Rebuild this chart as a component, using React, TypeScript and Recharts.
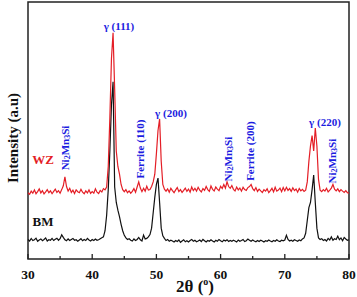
import React from 'react';
import { LineChart, Line, XAxis, YAxis, ReferenceDot, ReferenceArea } from 'recharts';

const twoTheta = [
  30, 30.25, 30.5, 30.75, 31, 31.25, 31.5, 31.75, 32, 32.25, 32.5, 32.75, 33, 33.25, 33.5, 33.75, 34, 34.25, 34.5, 34.75,
  35, 35.25, 35.5, 35.75, 36, 36.25, 36.5, 36.75, 37, 37.25, 37.5, 37.75, 38, 38.25, 38.5, 38.75, 39, 39.25, 39.5, 39.75,
  40, 40.25, 40.5, 40.75, 41, 41.25, 41.5, 41.75, 42, 42.25, 42.5, 42.75, 43, 43.25, 43.5, 43.75, 44, 44.25, 44.5, 44.75,
  45, 45.25, 45.5, 45.75, 46, 46.25, 46.5, 46.75, 47, 47.25, 47.5, 47.75, 48, 48.25, 48.5, 48.75, 49, 49.25, 49.5, 49.75,
  50, 50.25, 50.5, 50.75, 51, 51.25, 51.5, 51.75, 52, 52.25, 52.5, 52.75, 53, 53.25, 53.5, 53.75, 54, 54.25, 54.5, 54.75,
  55, 55.25, 55.5, 55.75, 56, 56.25, 56.5, 56.75, 57, 57.25, 57.5, 57.75, 58, 58.25, 58.5, 58.75, 59, 59.25, 59.5, 59.75,
  60, 60.25, 60.5, 60.75, 61, 61.25, 61.5, 61.75, 62, 62.25, 62.5, 62.75, 63, 63.25, 63.5, 63.75, 64, 64.25, 64.5, 64.75,
  65, 65.25, 65.5, 65.75, 66, 66.25, 66.5, 66.75, 67, 67.25, 67.5, 67.75, 68, 68.25, 68.5, 68.75, 69, 69.25, 69.5, 69.75,
  70, 70.25, 70.5, 70.75, 71, 71.25, 71.5, 71.75, 72, 72.25, 72.5, 72.75, 73, 73.25, 73.5, 73.75, 74, 74.25, 74.5, 74.75,
  75, 75.25, 75.5, 75.75, 76, 76.25, 76.5, 76.75, 77, 77.25, 77.5, 77.75, 78, 78.25, 78.5, 78.75, 79, 79.25, 79.5, 79.75,
  80,
];

const bmIntensity = [
  7.6, 7.0, 8.0, 7.2, 7.5, 8.1, 6.9, 7.4, 7.8, 7.1, 7.6, 8.2, 7.0, 7.5, 7.3, 8.0, 7.2, 7.7, 8.1, 7.3,
  7.9, 9.4, 8.4, 7.5, 7.1, 7.8, 7.2, 7.6, 8.0, 7.3, 7.5, 6.9, 7.4, 7.9, 7.1, 7.6, 7.2, 8.0, 7.4, 7.0,
  7.6, 7.2, 7.8, 7.3, 7.5, 7.9, 8.3, 8.6, 11.0, 17.0, 27.0, 42.0, 60.0, 69.0, 28.0, 22.0, 19.0, 16.5, 13.5, 11.0,
  9.2, 8.2, 7.6, 7.9, 7.3, 7.0, 7.8, 7.2, 7.6, 8.4, 7.5, 7.0, 9.3, 7.8, 8.0, 8.6, 9.5, 12.0, 18.0, 24.0,
  29.0, 31.5, 22.0, 12.0, 9.0, 8.0, 7.2, 7.6, 6.9, 7.3, 7.0, 6.6, 7.2, 6.8, 7.4, 6.5, 7.0, 7.5, 6.7, 7.1,
  6.6, 7.2, 7.6, 6.9, 7.3, 6.7, 7.0, 7.4, 6.8, 7.6, 7.1, 6.6, 7.2, 6.9, 7.5, 7.0, 6.6, 7.3, 6.9, 7.6,
  7.1, 6.7, 7.4, 7.0, 7.5, 6.8, 7.2, 6.9, 7.3, 7.0, 6.6, 7.4, 6.9, 7.2, 7.6, 6.8, 7.1, 7.8, 7.3, 6.9,
  7.4, 7.0, 6.7, 7.2, 6.8, 7.3, 7.0, 6.6, 7.1, 6.9, 7.4, 7.0, 6.7, 7.2, 6.9, 7.5, 7.0, 6.8, 7.3, 7.1,
  7.4, 9.2, 7.6, 7.0, 7.3, 6.9, 7.5, 7.2, 6.9, 7.4, 7.1, 7.8, 8.2, 10.0, 15.0, 20.0, 22.0, 27.0, 32.7, 22.0,
  12.0, 8.2, 7.6, 7.9, 7.2, 7.6, 7.0, 8.0, 7.4, 8.6, 7.3, 7.9, 7.6, 8.9, 7.5, 8.2, 7.1, 8.4, 7.8, 7.3,
  7.5,
];

const wzIntensity = [
  25.8, 25.2, 26.4, 25.6, 26.9, 25.4, 26.2, 27.3, 25.7, 26.6, 25.3, 26.1, 27.0, 25.8, 26.5, 25.4, 26.3, 27.2, 25.9, 26.6,
  25.6, 27.0, 28.5, 32.0, 28.2, 26.4, 27.5, 25.9, 26.8, 25.5, 26.9, 26.2, 25.8, 27.1, 26.0, 25.4, 26.5, 25.7, 26.9, 25.5,
  26.2, 25.6, 27.3, 26.0, 25.5, 26.7, 26.1, 27.4, 26.9, 28.0, 36.0, 55.0, 78.0, 88.0, 66.0, 42.0, 36.0, 33.0, 29.0, 27.0,
  26.2, 27.0, 25.8, 26.5, 25.6, 26.3, 27.4, 26.0, 28.0, 30.0, 27.6, 26.2, 27.5, 26.4, 28.3, 26.8, 27.0, 28.2, 30.0, 33.0,
  41.0, 50.0, 54.5, 38.0, 29.0, 27.2, 26.4, 27.3, 26.0, 27.5, 26.6, 25.8, 26.9, 27.8, 26.2, 27.0, 25.9, 26.7, 27.6, 26.3,
  27.2, 26.0, 28.0, 26.6, 27.5, 26.4, 27.9, 26.8, 26.1, 27.4, 26.7, 28.2, 27.0, 26.3, 28.4, 27.1, 26.5, 28.0, 27.2, 26.6,
  28.3, 27.4, 29.0, 27.6, 30.0, 28.2, 27.5, 28.6, 27.1, 26.5, 28.0, 26.9, 27.6, 26.4, 27.9, 27.0, 26.7, 27.8, 28.2, 29.0,
  27.4, 26.6, 27.8, 26.3, 27.2, 26.5, 25.9, 27.0, 26.4, 27.3, 25.8, 26.6, 27.5, 26.1, 27.9, 26.4, 26.8, 27.6, 26.2, 27.8,
  26.5, 27.9, 26.7, 27.4, 26.3, 27.7, 26.6, 27.2, 26.0, 27.4, 26.5, 27.1, 26.3, 26.8, 30.0, 38.0, 44.0, 48.0, 42.0, 51.0,
  44.0, 31.0, 26.8, 26.2, 27.0, 26.4, 27.5, 26.1, 26.8, 27.6, 29.0, 27.2, 26.5, 27.3, 26.2, 27.0, 26.4, 25.9, 26.6, 25.8,
  25.6,
];

const xTicks = [30, 35, 40, 45, 50, 55, 60, 65, 70, 75, 80];

const annotations = [
  { t: 44.17, v: 90.7, kind: 'text', text: 'γ (111)', color: '#1c1ce0', rotate: false },
  { t: 52.27, v: 56.8, kind: 'text', text: 'γ (200)', color: '#1c1ce0', rotate: false },
  { t: 76.26, v: 53.3, kind: 'text', text: 'γ (220)', color: '#1c1ce0', rotate: false },
  { t: 35.76, v: 43.2, kind: 'ni', text: 'Ni2Mn3Si', color: '#1c1ce0', rotate: true },
  { t: 47.45, v: 42.8, kind: 'text', text: 'Ferrite (110)', color: '#1c1ce0', rotate: true },
  { t: 61.15, v: 38.9, kind: 'ni', text: 'Ni2Mn3Si', color: '#1c1ce0', rotate: true },
  { t: 64.58, v: 42.0, kind: 'text', text: 'Ferrite (200)', color: '#1c1ce0', rotate: true },
  { t: 77.35, v: 38.1, kind: 'ni', text: 'Ni2Mn3Si', color: '#1c1ce0', rotate: true },
];

const seriesLabels = [
  { t: 32.34, v: 38.9, text: 'WZ', color: '#e41e26' },
  { t: 32.34, v: 14.4, text: 'BM', color: '#111111' },
];

const data = twoTheta.map((t, i) => ({ t, bm: bmIntensity[i], wz: wzIntensity[i] }));

const FONT = '"Liberation Serif", "Times New Roman", serif';

const XTick = (props: any) => {
  const { x, y, payload } = props;
  const major = payload.value % 10 === 0;
  return (
    <g>
      <line x1={x} x2={x} y1={y} y2={y - (major ? 5 : 3)} stroke="#222" strokeWidth={1.3} />
      {major && (
        <text x={x} y={y + 20} textAnchor="middle" fontFamily={FONT} fontWeight="bold" fontSize={13.5} fill="#111">
          {payload.value}
        </text>
      )}
    </g>
  );
};

const renderAnnotation = (a: any) => (p: any) => {
  const { cx, cy } = p;
  const transform = a.rotate ? `rotate(-90 ${cx} ${cy})` : undefined;
  if (a.kind === 'ni') {
    return (
      <text x={cx} y={cy} transform={transform} textAnchor="middle" dominantBaseline="central"
        fontFamily={FONT} fontWeight="bold" fontSize={11} fill={a.color}>
        Ni<tspan fontSize={8} dy={2}>2</tspan><tspan dy={-2}>Mn</tspan><tspan fontSize={8} dy={2}>3</tspan><tspan dy={-2}>Si</tspan>
      </text>
    );
  }
  return (
    <text x={cx} y={cy} transform={transform} textAnchor="middle" dominantBaseline="central"
      fontFamily={FONT} fontWeight="bold" fontSize={11} fill={a.color}>
      {a.text}
    </text>
  );
};

const renderSeriesLabel = (s: any) => (p: any) => (
  <text x={p.cx} y={p.cy} textAnchor="middle" dominantBaseline="central"
    fontFamily={FONT} fontWeight="bold" fontSize={13} fill={s.color}>
    {s.text}
  </text>
);

export default function App() {
  return (
    <div style={{ position: 'absolute', left: 0, top: 0, width: 357, height: 297, background: '#fff' }}>
      <LineChart width={357} height={297} data={data} margin={{ top: 2, right: 8, left: 0, bottom: 0 }}>
        <XAxis
          dataKey="t"
          type="number"
          domain={[30, 80]}
          ticks={xTicks}
          interval={0}
          height={38}
          tickSize={0}
          tickMargin={0}
          tickLine={false}
          axisLine={false}
          tick={<XTick />}
          label={{
            content: () => (
              <text x={195} y={292} textAnchor="middle" fontFamily={FONT} fontWeight="bold" fontSize={17} fill="#111">
                2θ (<tspan fontSize={10} dy={-7}>o</tspan><tspan dy={7}>)</tspan>
              </text>
            ),
          }}
        />
        <YAxis
          type="number"
          domain={[0, 100]}
          width={28}
          tick={false}
          tickLine={false}
          axisLine={false}
          label={{
            content: () => (
              <text x={13} y={138} transform="rotate(-90 13 138)" textAnchor="middle" dominantBaseline="central"
                fontFamily={FONT} fontWeight="bold" fontSize={15} fill="#111">
                Intensity (a.u)
              </text>
            ),
          }}
        />
        <ReferenceArea x1={30} x2={80} y1={0} y2={100} fill="none" fillOpacity={0} stroke="#222" strokeWidth={1.5} />
        <Line type="linear" dataKey="bm" stroke="#111111" strokeWidth={1.2} dot={false} isAnimationActive={false} />
        <Line type="linear" dataKey="wz" stroke="#e41e26" strokeWidth={1.2} dot={false} isAnimationActive={false} />
        {annotations.map((a, i) => (
          <ReferenceDot key={'a' + i} x={a.t} y={a.v} r={0} shape={renderAnnotation(a)} />
        ))}
        {seriesLabels.map((s, i) => (
          <ReferenceDot key={'s' + i} x={s.t} y={s.v} r={0} shape={renderSeriesLabel(s)} />
        ))}
      </LineChart>
    </div>
  );
}
